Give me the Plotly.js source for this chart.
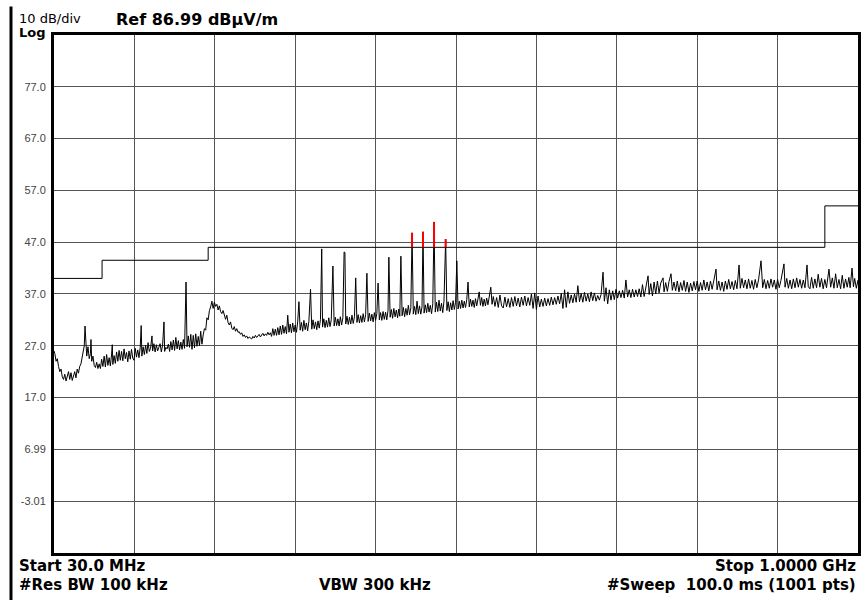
<!DOCTYPE html>
<html><head><meta charset="utf-8">
<script src="https://cdn.plot.ly/plotly-3.0.1.min.js"></script>
<style>html,body{margin:0;padding:0;background:#fff;overflow:hidden}#chart{width:861px;height:600px}</style>
</head><body><div id="chart"></div>
<script>
// ---- sweep data (MHz, dBuV/m) ----
const freqLow = [
30,31,32.5,34,35.5,37,38.5,40,41.5,43,
44.5,46,47.5,49,50.5,52,53.5,55,56.5,58,
59.5,61,62.5,64,65.5,66.5,67.4,68.3,69.5,71,
72.5,74,74.6,75.5,77,78.5,80,81.5,83,84.5,
86,87.5,89,90.5,92,93.5,95,96.5,98,99.5,
100.3,101,102.5,104,105.5,107,108.5,110,111.5,113,
114.5,116,117.5,119,120.5,122,123.5,125,126.5,128,
129.5,131,132.5,134,135.2,136,137.5,139,140.5,142,
143.5,145,146.5,148.2,149,150.5,152,153.5,155,156.5,
158,159.5,161,162.7,163.5,165,166.5,168,169.5,171,
172.5,174,175.5,177,178.5,180,181.5,183,184.5,186,
187.5,189.3,190.5,192,193.5,195,196.5,198,199.5,201,
202.5,204,205.5,207,208.5,210,211.5,213,214.5,216,
217.5,219,220.5,222,223.5,225,226.5,228,229.5,231];
const levelLow = [
26.0,25.5,24.0,24.5,23.0,22.0,22.5,21.0,20.5,21.5,
20.2,21.0,22.0,20.5,21.8,20.3,21.5,22.0,20.8,22.5,
21.7,23.0,23.5,24.8,25.5,27.0,30.8,26.5,25.0,26.8,
24.5,25.5,28.2,24.0,25.0,23.2,22.8,23.8,22.6,23.5,
22.6,24.4,23.0,25.0,22.9,25.3,23.2,24.7,23.1,25.4,
27.2,23.4,25.1,23.6,25.8,24.0,26.1,24.2,25.9,24.1,
26.4,24.5,25.7,23.9,26.0,24.4,26.3,24.6,24.2,26.5,
24.8,26.2,24.7,26.6,30.9,25.0,26.8,25.3,27.1,25.5,
27.6,25.9,26.5,28.9,26.0,27.4,25.8,27.2,26.0,26.7,
27.4,25.8,27.1,31.6,25.9,26.7,26.4,27.3,25.9,27.8,
26.2,28.1,26.1,28.6,26.4,28.0,26.2,27.7,26.3,28.2,
26.5,39.3,26.8,28.9,26.7,29.2,26.3,29.0,26.6,29.3,
26.9,28.8,27.0,29.8,27.3,29.1,30.3,30.0,32.4,32.0,
33.8,34.5,35.6,34.2,35.4,34.6,35.0,33.9,34.7,33.6];

const freqMid = [
232.5,234,235.5,237,238.5,240,241.5,243,244.5,246,
247.5,249,250.5,252,253.5,255,256.5,258,259.5,261,
262.5,264,265.5,267,268.5,270,271.5,273,274.5,276,
277.5,279,280.5,282,283.5,285,286.5,288,289.5,291,
292.5,294,295.5,297,298.5,300,301.5,303,304.5,306,
307.5,309,310.5,312,313.5,315,316.5,318,319.5,321,
322.5,324,325.5,327,328.5,330,331.5,333,334.5,336,
337.5,339.5,341,342.5,344,345.5,347,348.5,350,351.5,
353,354,355.5,357,358.5,360,361.5,363,364.5,366.5,
368,369.5,371,372.5,374,375.5,377,378.5,380,381,
382,383.5,385,386.5,388,389.5,391,392.5,394,395.5,
397,398.5,400,401.5,403,404.5,406,407.5,409,410.5,
412,413.5,415,416.5,418,419.5,421,422.5,424,425.5,
427,428.5,430,431.5,433,434,435.5,437,438.5,440,
441.5,443,444.5,446,447.2,448.5,450,451.5,453,454.5,
456,457.5,459,460.5,462,463.5,465,466.5,468,469.5,
471,472.5,474,475.2,476.5,478,479.5,481,482.5,484,
485.5,487,488.5,490,491.5,493,494.5,496,497.5,499,
500.5,502.5,504,505.5,507,508.5,510,511.5,513,514.5,
516,517.5,519,520.5,522,523.5,525,526.5,528,529.5,
531,532.5,534,535.5,537,538.5,540,541.5,543,544.5,
546,547.5,549,550.5,552,553.5,555,557,558.5,560];
const levelMid = [
33.2,33.8,32.6,32.1,32.9,31.5,31.0,31.6,30.4,30.1,
30.7,29.8,30.3,29.6,29.7,29.2,29.5,28.8,29.1,28.6,
28.9,28.4,28.7,28.5,28.3,28.8,28.5,29.0,28.6,28.9,
29.2,28.7,29.0,29.4,28.9,29.3,29.0,29.6,29.1,29.5,
28.8,30.3,29.0,30.2,29.0,30.5,29.1,30.8,29.2,31.0,
29.4,30.7,29.3,32.9,29.6,31.2,29.5,31.4,29.7,31.0,
29.6,31.6,35.5,30.0,31.5,29.8,31.9,30.1,31.4,29.9,
31.7,37.9,30.2,32.0,30.3,31.6,30.1,31.8,30.4,32.1,
45.7,30.6,32.2,30.5,31.9,30.6,32.4,30.7,32.0,42.4,
30.8,32.5,30.9,32.2,30.8,32.6,31.0,32.4,45.1,45.0,
31.2,32.7,31.1,32.5,31.2,32.9,31.3,32.6,40.1,31.5,
33.0,31.4,32.8,31.5,33.2,31.6,33.0,41.0,31.7,33.3,
31.8,33.1,31.6,33.4,31.9,33.2,39.1,32.0,33.4,31.9,
33.6,32.1,33.5,32.0,33.8,44.1,32.5,34.0,32.3,34.2,
32.6,33.9,32.4,34.1,32.7,44.3,32.8,34.4,32.6,34.2,
32.9,34.8,33.0,34.3,48.8,33.1,34.6,33.0,35.6,33.2,
34.7,33.1,34.5,49.0,33.3,34.9,33.4,35.2,33.5,34.8,
33.2,35.1,50.9,33.5,35.4,33.6,35.8,33.7,35.2,33.4,
35.6,47.6,33.8,35.5,33.6,35.3,33.9,35.7,34.0,35.4,
43.4,34.1,35.6,34.2,35.8,34.3,35.6,34.4,35.9,39.3,
34.5,36.0,34.6,35.8,34.4,36.1,34.7,36.2,37.4,34.8,
36.3,34.6,36.0,34.7,36.2,34.9,36.4,38.3,35.0,36.5];

const freqHigh = [
562,564,566,568,570,572,574,576,578,580,
582,584,586,588,590,592,594,596,598,600,
602,604,606,608,610,612,614,616,618,620,
622,624,626,628,630,632,634,636,638,640,
642,644,646,648,650,652,654,656,658,660,
662,664,666,668,670,672,674,676,678,680,
682,684,686,688,690,692.4,694,696,698,700,
702,704,706,708,710,712,714,716,718,720,
722,724,726,728,730,732,734,736,738,740,
742,744,746.7,748,750,752,754,756,758,760,
762,764.8,766,768,770,772,774.4,776,778,780,
782,784,786,788,790,792,794,796,798,800,
802,804,806,808,810,812,814,816,818,820,
822,824,826,828.7,830,832,834,836,838,840,
842,844,846,848,850,852,854,856.5,858,860,
862,864,866,868,870,872,874,876,878,880,
883,885,887,889,891,893,895,897,899,901,
903,905,907,910.7,912,914,916,918,920,922,
924,926,928,930,932,934,936,938.5,940,942,
944,946,948,950,952,954,956,958,960,962,
965,967,969,971,973,975,977,979,981,983,
985,987,989,990.5,992.8,994.5,996,998,1000];
const levelHigh = [
34.6,36.3,34.4,36.8,34.7,34.3,36.4,34.5,36.1,34.4,
36.3,34.6,36.5,34.7,36.2,34.5,36.4,34.8,36.6,34.7,
36.3,34.8,37.0,34.2,37.2,34.0,36.6,34.5,36.0,34.6,
36.2,34.7,36.1,34.8,36.4,34.9,36.3,35.0,36.6,35.1,
37.1,34.2,37.8,34.4,37.4,35.2,36.8,35.3,37.0,35.4,
38.6,35.5,37.1,35.4,37.3,35.6,37.0,35.5,37.4,35.7,
37.2,35.6,36.7,35.8,36.9,41.2,35.6,38.2,35.1,37.8,
35.8,37.6,35.9,37.9,36.2,37.6,36.3,37.7,36.2,39.7,
36.4,37.8,36.3,37.9,36.4,37.8,36.5,38.0,36.4,38.8,
36.5,38.5,40.5,36.9,39.0,36.6,39.3,37.0,39.5,37.2,
39.1,40.1,37.4,39.2,37.5,39.4,40.9,37.7,39.3,37.6,
39.5,37.4,39.2,37.7,39.6,37.5,39.3,37.3,39.1,37.6,
39.4,37.8,39.5,37.5,39.2,37.7,39.7,37.8,39.3,37.6,
39.5,37.9,39.4,41.8,37.8,39.5,37.7,39.3,37.5,39.5,
37.9,39.8,38.0,39.4,37.8,39.6,38.0,42.6,38.1,40.0,
38.2,39.7,38.0,39.9,38.1,39.6,37.9,39.8,38.2,39.7,
43.4,38.2,39.8,38.0,39.6,38.1,39.9,38.3,39.7,37.9,
39.8,38.2,39.6,42.8,38.3,40.0,38.1,39.7,38.0,39.9,
38.2,40.1,38.3,39.8,38.1,39.7,38.2,42.6,38.4,38.0,
40.2,38.1,39.9,38.2,40.8,38.3,40.0,38.0,39.8,38.2,
41.8,38.3,40.1,38.1,40.9,38.2,39.8,38.0,40.6,38.1,
39.9,38.3,40.2,38.2,42.0,38.4,40.0,38.1,39.7];

// limit line breakpoints (MHz, dBuV/m)
const limitFreq = [30, 88, 216, 960, 1000];
const limitLevel = [40, 43.5, 46, 54, 54];

// axis settings
const refLevel = 86.99;
const dbPerDiv = 10;
const startMHz = 30;
const stopMHz = 1000;
const yTickValues = [77, 67, 57, 47, 37, 27, 17, 6.99, -3.01];
const yTickLabels = ['77.0', '67.0', '57.0', '47.0', '37.0', '27.0', '17.0', '6.99', '-3.01'];

// ---- build ----
if (freqLow.length !== levelLow.length || freqMid.length !== levelMid.length || freqHigh.length !== levelHigh.length) {
  throw new Error('length mismatch ' + [freqLow.length, levelLow.length, freqMid.length, levelMid.length, freqHigh.length, levelHigh.length].join(','));
}
const freq = freqLow.concat(freqMid, freqHigh);
const level = levelLow.concat(levelMid, levelHigh);

function limitAt(f) {
  let v = limitLevel[0];
  for (let i = 0; i < limitFreq.length; i++) if (f >= limitFreq[i]) v = limitLevel[i];
  return v;
}
const redX = [], redY = [];
for (let i = 0; i < freq.length; i++) {
  const lim = limitAt(freq[i]);
  if (level[i] > lim) { redX.push(freq[i], freq[i], null); redY.push(lim, level[i], null); }
}

const traces = [
  {x: limitFreq, y: limitLevel, type: 'scatter', mode: 'lines', line: {color: '#000', width: 1, shape: 'hv'}, hoverinfo: 'skip'},
  {x: freq, y: level, type: 'scatter', mode: 'lines', line: {color: '#000', width: 1}, hoverinfo: 'skip'},
  {x: redX, y: redY, type: 'scatter', mode: 'lines', line: {color: '#ff0000', width: 2}, connectgaps: false, hoverinfo: 'skip'}
];

const bold = (t) => '<b>' + t + '</b>';
const annFont = (size) => ({family: 'DejaVu Sans, Liberation Sans, Arial', size: size, color: '#000'});
const ann = (text, x, y, xanchor, size) => ({text: text, x: x, y: y, xref: 'paper', yref: 'paper', xanchor: xanchor, yanchor: 'middle', showarrow: false, font: annFont(size), borderpad: 0});

const layout = {
  width: 861, height: 600,
  margin: {l: 54, r: 3, t: 35, b: 47, pad: 0},
  paper_bgcolor: '#fff', plot_bgcolor: '#fff',
  showlegend: false,
  xaxis: {
    range: [startMHz, stopMHz], tick0: startMHz, dtick: (stopMHz - startMHz) / 10,
    showticklabels: false, ticks: '', showgrid: true, gridcolor: '#555', gridwidth: 1,
    zeroline: false, showline: true, linecolor: '#000', linewidth: 3, mirror: true, fixedrange: true
  },
  yaxis: {
    range: [refLevel - 10 * dbPerDiv, refLevel], tickmode: 'array', tickvals: yTickValues, ticktext: yTickLabels,
    tickfont: {family: 'Liberation Sans, Arial', size: 11, color: '#444'},
    ticks: '', ticklabelstandoff: 3, showgrid: true, gridcolor: '#555', gridwidth: 1,
    zeroline: false, showline: true, linecolor: '#000', linewidth: 3, mirror: true, fixedrange: true
  },
  shapes: [
    {type: 'line', xref: 'paper', yref: 'paper', x0: -0.0535, x1: -0.0535, y0: -0.11, y1: 1.055, line: {color: '#000', width: 3}}
  ],
  annotations: [
    ann('10 dB/div', -0.0448, 1.031, 'left', 13),
    ann(bold('Log'), -0.0448, 1.004, 'left', 13),
    ann(bold('Ref 86.99 dBµV/m'), 0.0759, 1.030, 'left', 16),
    ann(bold('Start 30.0 MHz'), -0.0448, -0.0251, 'left', 15),
    ann(bold('#Res BW 100 kHz'), -0.0448, -0.0618, 'left', 15),
    ann(bold('VBW 300 kHz'), 0.3284, -0.0618, 'left', 15),
    ann(bold('Stop 1.0000 GHz'), 0.9988, -0.0251, 'right', 15),
    ann(bold('#Sweep\u00a0 100.0 ms (1001 pts)'), 0.9988, -0.0618, 'right', 15)
  ]
};

Plotly.newPlot('chart', traces, layout, {staticPlot: true, displayModeBar: false});
</script>
</body></html>
